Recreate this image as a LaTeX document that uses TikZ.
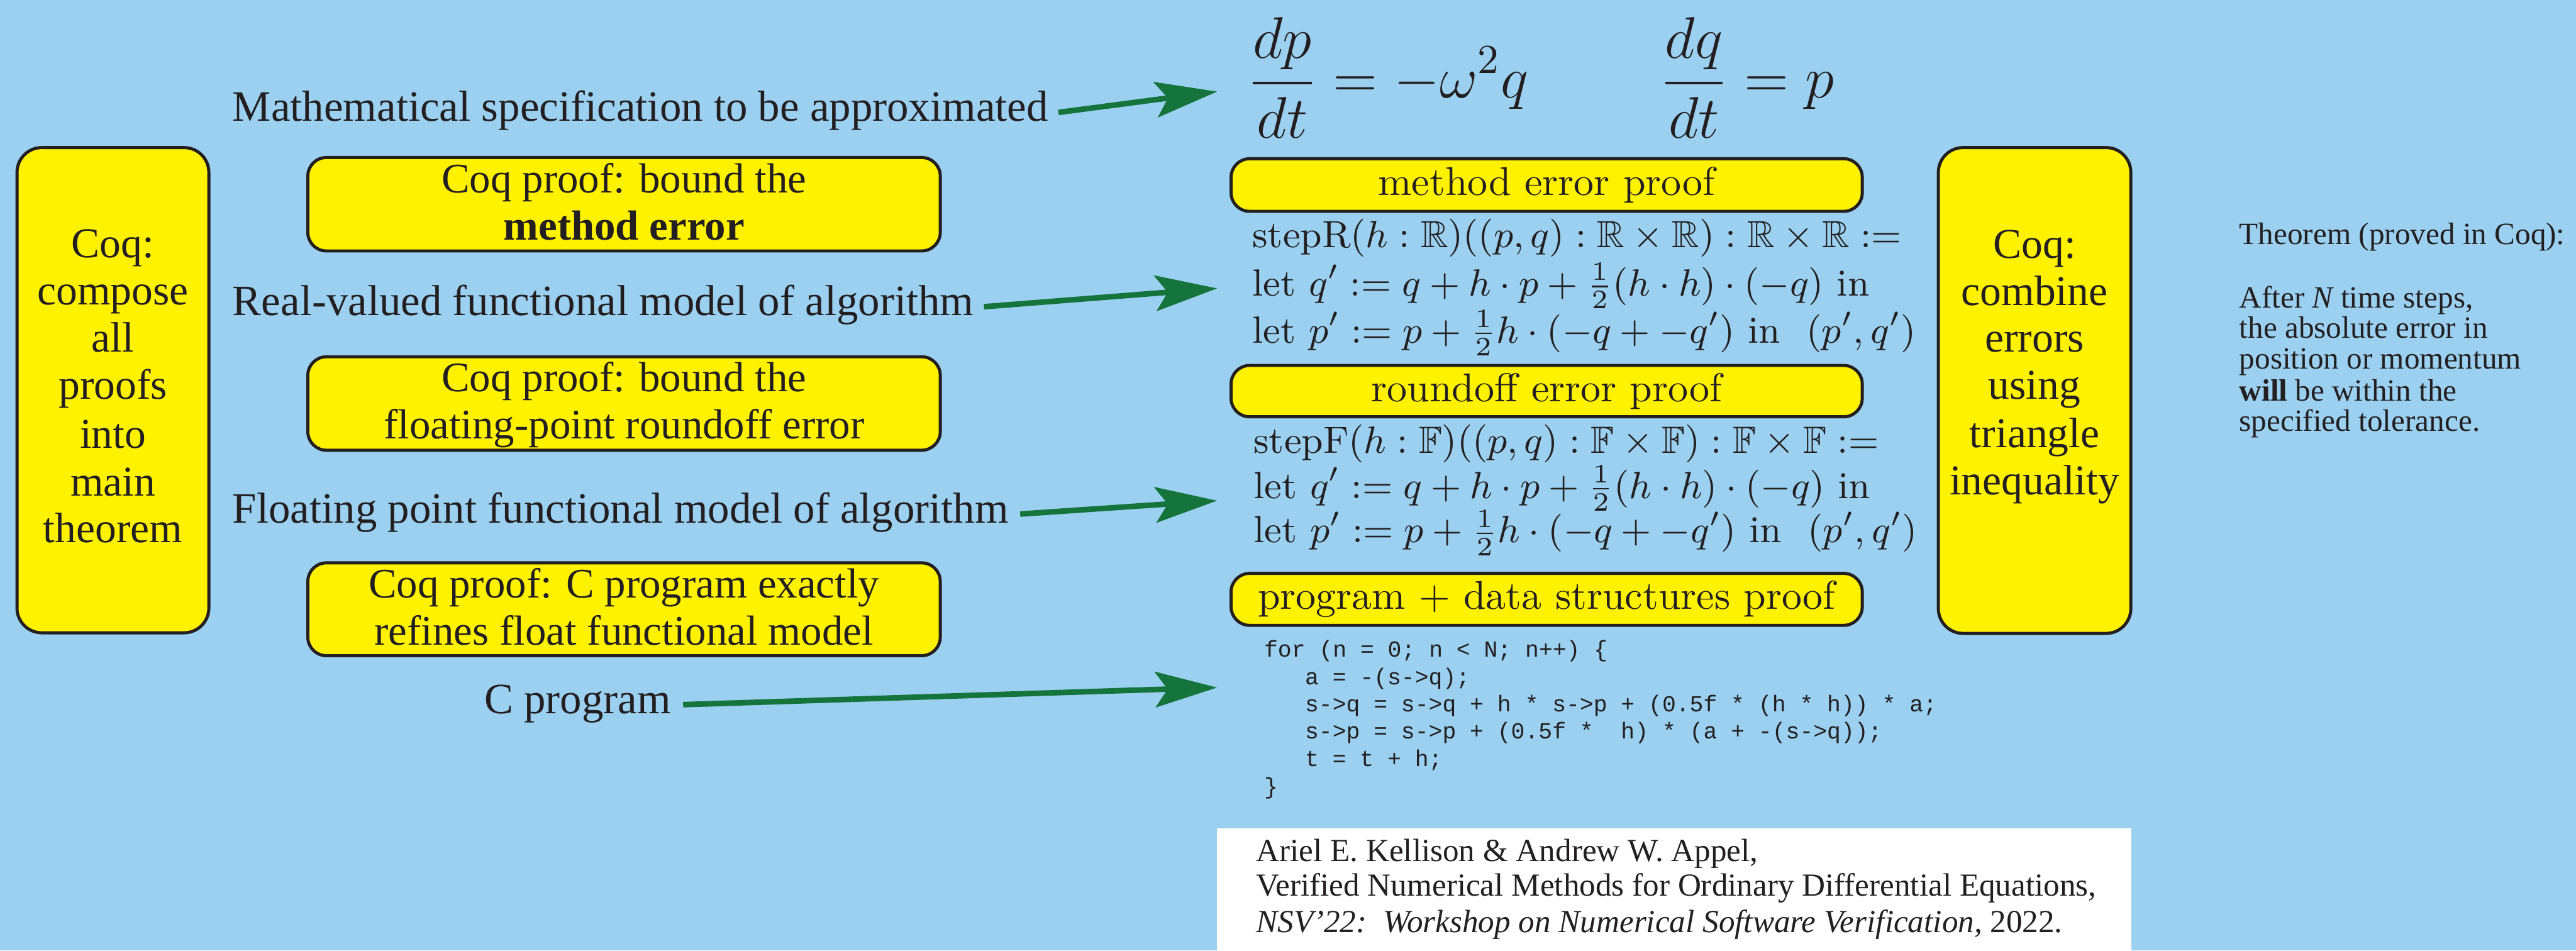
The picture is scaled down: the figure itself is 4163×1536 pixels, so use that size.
\RequirePackage{fix-cm}
\documentclass[tikz,border=0pt]{standalone}
\usepackage{amsmath,amssymb}
\usepackage{fontspec}
\newfontfamily\tf{Liberation Serif}
\newfontfamily\cf{Liberation Mono}
\usetikzlibrary{arrows.meta}
\definecolor{bg}{RGB}{155,208,240}
\definecolor{yel}{RGB}{255,242,0}
\definecolor{grn}{RGB}{20,116,60}
\definecolor{ink}{RGB}{35,31,32}
\tikzset{
  ybox/.style={draw=ink, line width=0.75pt, fill=yel, rounded corners=4.5pt, rectangle},
  pbox/.style={draw=ink, line width=0.75pt, fill=yel, rounded corners=4.5pt, rectangle,
     minimum width=153pt, font=\fontsize{9.75}{11}\selectfont},
  btxt/.style={font=\tf\fontsize{10.2}{11.4}\selectfont, anchor=base},
  stxt/.style={font=\tf\fontsize{10.3}{11.4}\selectfont, anchor=base},
  lbl/.style={font=\tf\fontsize{10.5}{11.4}\selectfont, anchor=base west},
  mth/.style={font=\fontsize{9.2}{11}\selectfont, anchor=base west},
  eqn/.style={font=\fontsize{14.25}{17}\selectfont, anchor=base west},
  code/.style={font=\cf\fontsize{5.55}{6.6}\selectfont, anchor=base west},
  thm/.style={font=\tf\fontsize{7.5}{7.5}\selectfont, anchor=base west},
  cite/.style={font=\tf\fontsize{7.8}{8.5}\selectfont, anchor=base west},
  arr/.style={draw=grn, line width=1.35pt, -{Stealth[length=15pt,width=8.6pt,inset=3pt]}},
}
\begin{document}
\begin{tikzpicture}[x=0.15pt,y=-0.15pt, every node/.style={inner sep=0pt, outer sep=0pt, text=ink}]
\fill[bg] (0,0) rectangle (4163,1536);
\useasboundingbox (0,0) rectangle (4163,1536);

% left box
\node[ybox, minimum width=46.5pt, minimum height=117.6pt, rounded corners=6pt] (lbox) at (182.5,630.5) {};
\foreach \w/\yy [count=\i] in {Coq:/416, compose/492, all/569, proofs/645, into/724, main/801, theorem/877}
  \node[stxt] (lt\i) at (182.5,\yy) {\w};

% Coq proof boxes
\node[ybox, minimum width=153.3pt, minimum height=22.65pt] (b1) at (1008.5,330) {};
\node[btxt] (b1a) at (1008.5,312) {Coq proof: bound the};
\node[btxt] (b1b) at (1008.5,388) {\bfseries method error};
\node[ybox, minimum width=153.3pt, minimum height=22.65pt] (b2) at (1008.5,652) {};
\node[btxt] (b2a) at (1008.5,633) {Coq proof: bound the};
\node[btxt] (b2b) at (1008.5,709) {floating-point roundoff error};
\node[ybox, minimum width=153.3pt, minimum height=22.5pt] (b3) at (1008.5,984.5) {};
\node[btxt] (b3a) at (1008.5,966) {Coq proof: C program exactly};
\node[btxt] (b3b) at (1008.5,1042) {refines float functional model};

% labels
\node[lbl] (l1) at (376,196) {Mathematical specification to be approximated};
\node[lbl] (l2) at (376,510) {Real-valued functional model of algorithm};
\node[lbl] (l3) at (376,845) {Floating point functional model of algorithm};
\node[lbl, anchor=base east] (l4) at (1084,1153) {C program};

% arrow targets
\coordinate (t1) at (1967,148);
\coordinate (t2) at (1967,466);
\coordinate (t3) at (1967,809);
\coordinate (t4) at (1967,1111);
\draw[arr] ([xshift=2.5pt]l1.mid east) -- (t1);
\draw[arr] ([xshift=2.5pt]l2.mid east) -- (t2);
\draw[arr] ([xshift=2.8pt]l3.mid east) -- (t3);
\draw[arr] ([xshift=3pt]l4.mid east) -- (t4);

% equations
\node[eqn] (e1) at (2017,158) {$\displaystyle\frac{dp}{dt}=-\omega^2q$};
\node[eqn] (e2) at (2683,158) {$\displaystyle\frac{dq}{dt}=p$};

% proof boxes
\node[pbox, minimum height=12.75pt] (pb1) at (2499.5,299) {method error proof};
\node[pbox, minimum height=12.45pt] (pb2) at (2499.5,632) {roundoff error proof};
\node[pbox, minimum height=12.6pt] (pb3) at (2499.5,968.5) {program + data structures proof};

% math lines
\node[mth] (m1) at (2024,400) {$\mathrm{stepR}(h:\mathbb{R})((p,q):\mathbb{R}\times\mathbb{R}):\mathbb{R}\times\mathbb{R}:=$};
\node[mth] (m2) at (2024,478) {$\mathrm{let}\ q' := q + h\cdot p + \tfrac{1}{2}(h\cdot h)\cdot(-q)\ \mathrm{in}$};
\node[mth] (m3) at (2024,554) {$\mathrm{let}\ p' := p + \tfrac{1}{2}h\cdot(-q + -q')\ \mathrm{in}\ \ (p',q')$};
\node[mth] (m4) at (2026,732) {$\mathrm{stepF}(h:\mathbb{F})((p,q):\mathbb{F}\times\mathbb{F}):\mathbb{F}\times\mathbb{F}:=$};
\node[mth] (m5) at (2026,805) {$\mathrm{let}\ q' := q + h\cdot p + \tfrac{1}{2}(h\cdot h)\cdot(-q)\ \mathrm{in}$};
\node[mth] (m6) at (2026,877) {$\mathrm{let}\ p' := p + \tfrac{1}{2}h\cdot(-q + -q')\ \mathrm{in}\ \ (p',q')$};

% code
\node[code] (c1) at (2043,1062) {for (n = 0; n < N; n++) \{};
\node[code] (c2) at (2109,1106) {a = -(s->q);};
\node[code] (c3) at (2109,1150) {s->q = s->q + h * s->p + (0.5f * (h * h)) * a;};
\node[code] (c4) at (2109,1194) {s->p = s->p + (0.5f *\ \ h) * (a + -(s->q));};
\node[code] (c5) at (2109,1238) {t = t + h;};
\node[code] (c6) at (2043,1283) {\}};

% right box
\node[ybox, minimum width=46.65pt, minimum height=117.75pt, rounded corners=6pt] (rbox) at (3288,631) {};
\foreach \w/\yy [count=\i] in {Coq:/417, combine/493, errors/569, using/645, triangle/723, inequality/799}
  \node[stxt] (rt\i) at (3288,\yy) {\w};

% theorem
\node[thm] (th0) at (3619,395) {Theorem (proved in Coq):};
\node[thm] (th1) at (3619,497) {After {\itshape N} time steps,};
\node[thm] (th2) at (3619,546) {the absolute error in};
\node[thm] (th3) at (3619,596) {position or momentum};
\node[thm] (th4) at (3619,648) {\textbf{will} be within the};
\node[thm] (th5) at (3619,697) {specified tolerance.};

% citation
\node[fill=white, minimum width=221.55pt, minimum height=30.6pt] (cb) at (2705.5,1441) {};
\node[cite] (r1) at (2030,1392) {Ariel E. Kellison \& Andrew W. Appel,};
\node[cite] (r2) at (2030,1448) {Verified Numerical Methods for Ordinary Differential Equations,};
\node[cite] (r3) at (2030,1507) {\itshape NSV’22:\ \ Workshop on Numerical Software Verification, \upshape 2022.};
\end{tikzpicture}
\end{document}
